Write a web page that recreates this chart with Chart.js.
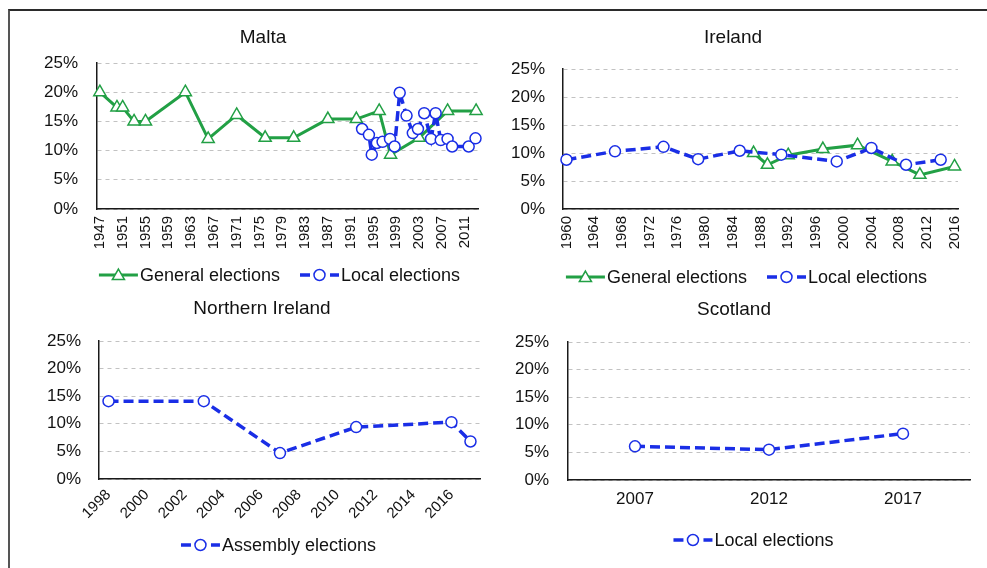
<!DOCTYPE html>
<html><head><meta charset="utf-8">
<script src="https://cdn.jsdelivr.net/npm/chart.js@4/dist/chart.umd.min.js"></script>
<style>
html,body{margin:0;padding:0;background:#fff;}
body{width:987px;height:568px;position:relative;overflow:hidden;}
.frame{position:absolute;left:8px;top:9px;width:990px;height:570px;border-top:2px solid #2b2b2b;border-left:2px solid #555;}
canvas{position:absolute;display:block;}
</style></head><body>
<div class="frame"></div>
<canvas id="cMalta" width="480" height="280" style="left:10px;top:12px"></canvas>
<canvas id="cIreland" width="490" height="280" style="left:495px;top:12px"></canvas>
<canvas id="cNI" width="480" height="276" style="left:10px;top:292px"></canvas>
<canvas id="cScot" width="490" height="276" style="left:495px;top:292px"></canvas>
<script>
// ---------------- DATA ----------------
const yTickValues = [0, 5, 10, 15, 20, 25];

const maltaGeneralYears  = [1947, 1950, 1951, 1953, 1955, 1962, 1966, 1971, 1976, 1981, 1987, 1992, 1996, 1998, 2003, 2008, 2013];
const maltaGeneralValues = [20.0, 17.4, 17.4, 15.0, 15.0, 20.0, 12.0, 16.1, 12.2, 12.2, 15.4, 15.4, 16.8, 9.3, 12.2, 16.8, 16.8];
const maltaLocalYears    = [1993.0, 1994.2, 1994.7, 1995.6, 1996.6, 1997.9, 1998.7, 1999.6, 2000.8, 2001.9, 2002.8, 2003.9, 2005.1, 2005.9, 2006.8, 2008.0, 2008.8, 2011.7, 2012.9];
const maltaLocalValues   = [13.7, 12.7, 9.3, 11.3, 11.5, 12.0, 10.7, 19.9, 16.0, 13.0, 13.7, 16.4, 12.0, 16.4, 11.8, 12.0, 10.7, 10.7, 12.1];
const maltaTickYears     = [1947, 1951, 1955, 1959, 1963, 1967, 1971, 1975, 1979, 1983, 1987, 1991, 1995, 1999, 2003, 2007, 2011];

const irelandGeneralYears  = [1987, 1989, 1992, 1997, 2002, 2007, 2011, 2016];
const irelandGeneralValues = [10.0, 7.9, 9.6, 10.7, 11.4, 8.5, 6.1, 7.6];
const irelandLocalYears    = [1960, 1967, 1974, 1979, 1985, 1991, 1999, 2004, 2009, 2014];
const irelandLocalValues   = [8.8, 10.3, 11.1, 8.9, 10.4, 9.7, 8.5, 10.9, 7.9, 8.8];
const irelandTickYears     = [1960, 1964, 1968, 1972, 1976, 1980, 1984, 1988, 1992, 1996, 2000, 2004, 2008, 2012, 2016];

const niAssemblyYears  = [1998, 2003, 2007, 2011, 2016, 2017];
const niAssemblyValues = [14.1, 14.1, 4.7, 9.4, 10.3, 6.8];
const niTickYears      = [1998, 2000, 2002, 2004, 2006, 2008, 2010, 2012, 2014, 2016];

const scotlandYears       = ['2007', '2012', '2017'];
const scotlandLocalValues = [6.1, 5.5, 8.4];

// ---------------- STYLE ----------------
const FONT = "'Liberation Sans', Arial, sans-serif";
const GREEN = '#22a045';
const BLUE = '#1a2ee6';
const TEXT = '#121212';
Chart.defaults.font.family = FONT;
Chart.defaults.color = TEXT;
Chart.defaults.animation = false;

function pts(xs, ys) { return xs.map((x, i) => ({ x: x, y: ys[i] })); }

function generalDs(data) {
  return { label: 'General elections', data: data, borderColor: GREEN, backgroundColor: '#fff',
    borderWidth: 3, pointStyle: 'triangle', pointRadius: 7, pointBorderWidth: 1.5,
    pointBackgroundColor: '#fff', pointBorderColor: GREEN, order: 2, clip: 12 };
}
function localDs(label, data) {
  return { label: label, data: data, borderColor: BLUE, backgroundColor: '#fff',
    borderWidth: 3.5, borderDash: [10, 5], pointStyle: 'circle', pointRadius: 5.5, pointBorderWidth: 1.5,
    pointBackgroundColor: '#fff', pointBorderColor: BLUE, order: 1, clip: 12 };
}

function drawMarker(ctx, style, r, x, y) {
  ctx.beginPath();
  if (style === 'triangle') {
    ctx.moveTo(x, y - r);
    ctx.lineTo(x + r * 0.866, y + r * 0.5);
    ctx.lineTo(x - r * 0.866, y + r * 0.5);
    ctx.closePath();
  } else {
    ctx.arc(x, y, r, 0, Math.PI * 2);
  }
  ctx.fill(); ctx.stroke();
}

const lineLegend = {
  id: 'lineLegend',
  afterDraw(chart, args, opts) {
    const ctx = chart.ctx;
    const ds = chart.data.datasets;
    ctx.save();
    ctx.font = opts.fontSize + 'px ' + FONT;
    const sampleW = 39, gapText = 2, gapItem = 20;
    const widths = ds.map(d => sampleW + gapText + ctx.measureText(d.label).width);
    const total = widths.reduce((a, b) => a + b, 0) + gapItem * (ds.length - 1);
    let x = opts.centerX - total / 2;
    const y = opts.y;
    ds.forEach((d, i) => {
      ctx.save();
      ctx.strokeStyle = d.borderColor; ctx.lineWidth = d.borderWidth;
      ctx.setLineDash(d.borderDash || []);
      ctx.beginPath(); ctx.moveTo(x, y); ctx.lineTo(x + sampleW, y); ctx.stroke();
      ctx.setLineDash([]);
      ctx.fillStyle = '#fff'; ctx.strokeStyle = d.pointBorderColor; ctx.lineWidth = d.pointBorderWidth;
      const r = d.pointStyle === 'triangle' ? d.pointRadius : d.pointRadius;
      const cy = d.pointStyle === 'triangle' ? y + 1 : y;
      if (Chart.helpers && Chart.helpers.drawPoint) {
        Chart.helpers.drawPoint(ctx, { pointStyle: d.pointStyle, radius: r, borderWidth: d.pointBorderWidth, rotation: 0 }, x + sampleW / 2, cy);
      } else {
        drawMarker(ctx, d.pointStyle, r, x + sampleW / 2, cy);
      }
      ctx.restore();
      ctx.fillStyle = TEXT; ctx.textBaseline = 'middle'; ctx.textAlign = 'left';
      ctx.fillText(d.label, x + sampleW + gapText, y + 1);
      x += widths[i] + gapItem;
    });
    ctx.restore();
  }
};

function yScale(width, pad) {
  return {
    type: 'linear', min: 0, max: 25,
    afterBuildTicks: s => { s.ticks = yTickValues.map(v => ({ value: v })); },
    afterFit: s => { s.width = width; },
    ticks: { padding: pad, color: TEXT, font: { size: 17 }, callback: v => v + '%' },
    grid: { color: '#c2c2c2', lineWidth: 1, drawTicks: false },
    border: { display: true, color: '#1a1a1a', width: 1.5, dash: [4, 4] }
  };
}
function xLinear(min, max, tickYears, height, rotation, fontSize) {
  return {
    type: 'linear', min: min, max: max,
    afterBuildTicks: s => { s.ticks = tickYears.map(v => ({ value: v })); },
    afterFit: s => { s.height = height; },
    ticks: { autoSkip: false, minRotation: rotation, maxRotation: rotation, padding: 7,
      color: TEXT, font: { size: fontSize }, callback: v => String(v) },
    grid: { display: false, drawTicks: false },
    border: { display: true, color: '#1a1a1a', width: 1.5 }
  };
}
function titleOpts(text, center, top, size) {
  const lh = size * 1.2;
  const pt = center - lh / 2;
  return { display: true, text: text, color: TEXT, font: { size: size, weight: 'normal' },
    padding: { top: pt, bottom: top - pt - lh } };
}

// ---------------- CHARTS ----------------
new Chart(document.getElementById('cMalta'), {
  type: 'line',
  data: { datasets: [
    generalDs(pts(maltaGeneralYears, maltaGeneralValues)),
    localDs('Local elections', pts(maltaLocalYears, maltaLocalValues))
  ] },
  options: {
    responsive: false, maintainAspectRatio: false,
    layout: { padding: { left: 31, right: 5, top: 0, bottom: 38 } },
    scales: { x: xLinear(1946.5, 2013.5, maltaTickYears, 45, 90, 15), y: yScale(56, 19) },
    plugins: { legend: { display: false }, tooltip: { enabled: false },
      title: titleOpts('Malta', 26, 51, 19),
      lineLegend: { centerX: 269.5, y: 263, fontSize: 18 } }
  },
  plugins: [lineLegend]
});

new Chart(document.getElementById('cIreland'), {
  type: 'line',
  data: { datasets: [
    generalDs(pts(irelandGeneralYears, irelandGeneralValues)),
    localDs('Local elections', pts(irelandLocalYears, irelandLocalValues))
  ] },
  options: {
    responsive: false, maintainAspectRatio: false,
    layout: { padding: { left: 13, right: 27, top: 0, bottom: 38 } },
    scales: { x: xLinear(1959.5, 2016.5, irelandTickYears, 45, 90, 15), y: yScale(55, 18) },
    plugins: { legend: { display: false }, tooltip: { enabled: false },
      title: titleOpts('Ireland', 26, 57, 19),
      lineLegend: { centerX: 251.5, y: 265, fontSize: 18 } }
  },
  plugins: [lineLegend]
});

new Chart(document.getElementById('cNI'), {
  type: 'line',
  data: { datasets: [
    localDs('Assembly elections', pts(niAssemblyYears, niAssemblyValues))
  ] },
  options: {
    responsive: false, maintainAspectRatio: false,
    layout: { padding: { left: 34, right: 10, top: 0, bottom: 39 } },
    scales: { x: xLinear(1997.5, 2017.5, niTickYears, 50, 45, 15), y: yScale(55, 18) },
    plugins: { legend: { display: false }, tooltip: { enabled: false },
      title: titleOpts('Northern Ireland', 17, 49, 19),
      lineLegend: { centerX: 268.5, y: 253, fontSize: 18 } }
  },
  plugins: [lineLegend]
});

new Chart(document.getElementById('cScot'), {
  type: 'line',
  data: { labels: scotlandYears, datasets: [
    localDs('Local elections', scotlandLocalValues)
  ] },
  options: {
    responsive: false, maintainAspectRatio: false,
    layout: { padding: { left: 3, right: 15, top: 0, bottom: 48 } },
    scales: {
      x: { type: 'category', offset: true,
        afterFit: s => { s.height = 40; },
        ticks: { padding: 9, color: TEXT, font: { size: 17 }, maxRotation: 0, minRotation: 0 },
        grid: { display: false, drawTicks: false },
        border: { display: true, color: '#1a1a1a', width: 1.5 } },
      y: yScale(70, 19)
    },
    plugins: { legend: { display: false }, tooltip: { enabled: false },
      title: titleOpts('Scotland', 18, 50, 19),
      lineLegend: { centerX: 258.5, y: 248, fontSize: 18 } }
  },
  plugins: [lineLegend]
});
</script>
</body></html>
